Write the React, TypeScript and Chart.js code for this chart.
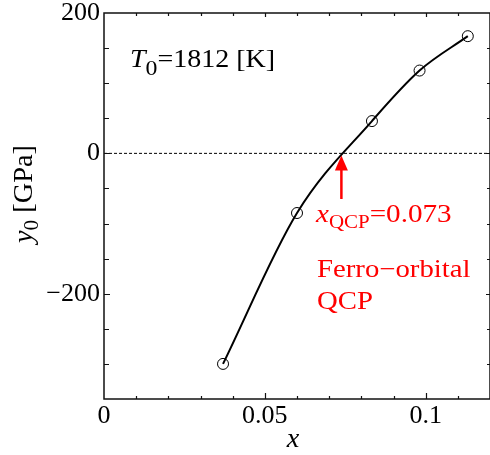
import { useEffect, useRef } from 'react';
import { Chart, registerables } from 'chart.js';

Chart.register(...registerables);

// ---- data ----
const xValues = [0.037, 0.06, 0.0833, 0.0981, 0.1131];
const y0Values = [-300, -85, 46, 118, 167];
const zeroLineX = [0, 0.12];
const zeroLineY = [0, 0];
const xTickLabels = [0, 0.05, 0.1];
const yTickLabels = [-200, 0, 200];
const xRange = [0, 0.12];
const yRange = [-350, 200];
const qcpX = [0.0738];
const arrowY = [-65, -3];

const FAMILY = "'Liberation Serif', 'Times New Roman', serif";

type Part = { t: string; italic?: boolean; sub?: boolean };

function measureRich(ctx: CanvasRenderingContext2D, parts: Part[], size: number, subScale: number) {
  let w = 0;
  for (const p of parts) {
    const fs = p.sub ? size * subScale : size;
    ctx.font = `${p.italic ? 'italic ' : ''}${fs}px ${FAMILY}`;
    w += ctx.measureText(p.t).width;
  }
  return w;
}

function drawRich(
  ctx: CanvasRenderingContext2D,
  x: number,
  y: number,
  parts: Part[],
  size: number,
  color: string,
  opts: { sx?: number; subScale?: number; subDy?: number; rotate?: number; center?: boolean } = {}
) {
  const sx = opts.sx ?? 1.1;
  const subScale = opts.subScale ?? 0.75;
  const subDy = opts.subDy ?? 7;
  ctx.save();
  ctx.translate(x, y);
  if (opts.rotate) ctx.rotate(opts.rotate);
  ctx.scale(sx, 1);
  ctx.fillStyle = color;
  ctx.textBaseline = 'alphabetic';
  ctx.textAlign = 'left';
  let cx = opts.center ? -measureRich(ctx, parts, size, subScale) / 2 : 0;
  for (const p of parts) {
    const fs = p.sub ? size * subScale : size;
    ctx.font = `${p.italic ? 'italic ' : ''}${fs}px ${FAMILY}`;
    ctx.fillText(p.t, cx, p.sub ? subDy : 0);
    cx += ctx.measureText(p.t).width;
  }
  ctx.restore();
}

const isIn = (list: number[], v: number) => list.find((t) => Math.abs(t - v) < 1e-9);

const framePlugin = {
  id: 'framePlugin',
  afterDatasetsDraw(chart: any) {
    const ctx: CanvasRenderingContext2D = chart.ctx;
    const xs = chart.scales.x;
    const ys = chart.scales.y;
    // red arrow
    const ax = xs.getPixelForValue(qcpX[0]);
    const yFrom = ys.getPixelForValue(arrowY[0]);
    const yTip = ys.getPixelForValue(arrowY[1]);
    const headLen = 15;
    const headHalf = 6.5;
    ctx.save();
    ctx.strokeStyle = '#ff0000';
    ctx.fillStyle = '#ff0000';
    ctx.lineWidth = 2.5;
    ctx.beginPath();
    ctx.moveTo(ax, yFrom);
    ctx.lineTo(ax, yTip + headLen - 1);
    ctx.stroke();
    ctx.beginPath();
    ctx.moveTo(ax, yTip);
    ctx.lineTo(ax - headHalf, yTip + headLen);
    ctx.lineTo(ax + headHalf, yTip + headLen);
    ctx.closePath();
    ctx.fill();
    ctx.restore();
  },
  afterDraw(chart: any) {
    const ctx: CanvasRenderingContext2D = chart.ctx;
    const { left, right, top, bottom } = chart.chartArea;
    const xs = chart.scales.x;
    const ys = chart.scales.y;
    ctx.save();
    ctx.strokeStyle = '#111';
    ctx.lineWidth = 1.5;
    ctx.strokeRect(left, top, right - left, bottom - top);
    ctx.lineWidth = 1.2;
    ctx.beginPath();
    for (const t of xs.ticks) {
      const px = Math.round(xs.getPixelForValue(t.value)) + 0.5;
      if (px <= left + 1 || px >= right - 1) continue;
      const major = isIn(xTickLabels, t.value) !== undefined;
      ctx.moveTo(px, bottom);
      ctx.lineTo(px, bottom - (major ? 6 : 3));
      ctx.moveTo(px, top);
      ctx.lineTo(px, top + (major ? 4 : 3));
    }
    for (const t of ys.ticks) {
      const py = Math.round(ys.getPixelForValue(t.value)) + 0.5;
      if (py <= top + 1 || py >= bottom - 1) continue;
      const major = isIn(yTickLabels, t.value) !== undefined;
      ctx.moveTo(left, py);
      ctx.lineTo(left + (major ? 6 : 5), py);
      ctx.moveTo(right, py);
      ctx.lineTo(right - (major ? 4 : 3), py);
    }
    ctx.stroke();
    ctx.restore();

    // axis titles
    drawRich(ctx, 32, 194, [{ t: 'y', italic: true }, { t: '0', sub: true }, { t: ' [GPa]' }], 27, '#000', {
      sx: 1.05,
      subScale: 0.75,
      subDy: 6,
      rotate: -Math.PI / 2,
      center: true,
    });
    drawRich(ctx, 293, 447, [{ t: 'x', italic: true }], 27, '#000', { center: true, sx: 1.05 });

    // annotations
    drawRich(ctx, 130, 67, [{ t: 'T', italic: true }, { t: '0', sub: true }, { t: '=1812 [K]' }], 25, '#000', {
      sx: 1.12,
      subScale: 0.85,
      subDy: 8,
    });
    drawRich(ctx, 316, 222, [{ t: 'x', italic: true }, { t: 'QCP', sub: true }, { t: '=0.073' }], 26, '#ff0000', {
      sx: 1.12,
      subScale: 0.72,
      subDy: 6,
    });
    drawRich(ctx, 317, 277, [{ t: 'Ferro\u2212orbital' }], 25, '#ff0000', { sx: 1.15 });
    drawRich(ctx, 317, 309, [{ t: 'QCP' }], 25, '#ff0000', { sx: 1.15 });
  },
};

export default function App() {
  const ref = useRef<HTMLCanvasElement | null>(null);
  useEffect(() => {
    if (!ref.current) return;
    const chart = new Chart(ref.current, {
      type: 'line',
      data: {
        datasets: [
          {
            label: 'zero',
            data: zeroLineX.map((x, i) => ({ x, y: zeroLineY[i] })),
            borderColor: '#000',
            borderWidth: 1,
            borderDash: [3, 2],
            pointRadius: 0,
            tension: 0,
          },
          {
            label: 'y0',
            data: xValues.map((x, i) => ({ x, y: y0Values[i] })),
            borderColor: '#000',
            borderWidth: 2,
            cubicInterpolationMode: 'monotone',
            pointRadius: 5.5,
            pointBorderWidth: 1,
            pointBorderColor: '#000',
            pointBackgroundColor: 'rgba(0,0,0,0)',
            pointStyle: 'circle',
          },
        ],
      },
      options: {
        animation: false,
        responsive: false,
        maintainAspectRatio: false,
        events: [],
        layout: { autoPadding: false, padding: { top: 13, right: 0, left: 0, bottom: 0 } },
        plugins: { legend: { display: false }, tooltip: { enabled: false } },
        scales: {
          x: {
            type: 'linear',
            min: xRange[0],
            max: xRange[1],
            grid: { display: false, drawTicks: false },
            border: { display: false },
            ticks: {
              stepSize: 0.01,
              autoSkip: false,
              maxRotation: 0,
              padding: 2,
              color: '#000',
              font: { family: FAMILY, size: 26 },
              callback: (v: any) => {
                const h = isIn(xTickLabels, Number(v));
                return h === undefined ? '' : String(h);
              },
            },
            afterFit: (s: any) => {
              s.height = 56;
              s.paddingLeft = 0;
              s.paddingRight = 0;
            },
          },
          y: {
            type: 'linear',
            min: yRange[0],
            max: yRange[1],
            grid: { display: false, drawTicks: false },
            border: { display: false },
            ticks: {
              stepSize: 50,
              autoSkip: false,
              padding: 4,
              color: '#000',
              font: { family: FAMILY, size: 26 },
              callback: (v: any) => {
                const h = isIn(yTickLabels, Number(v));
                if (h === undefined) return '';
                return h < 0 ? '\u2212' + Math.abs(h) : String(h);
              },
            },
            afterFit: (s: any) => {
              s.width = 104;
              s.paddingTop = 0;
              s.paddingBottom = 0;
            },
          },
        },
      },
      plugins: [framePlugin],
    });
    return () => chart.destroy();
  }, []);
  return (
    <div style={{ position: 'fixed', left: 0, top: 0, width: 490, height: 455, background: '#fff' }}>
      <canvas ref={ref} width={490} height={455} style={{ width: 490, height: 455 }} />
    </div>
  );
}
